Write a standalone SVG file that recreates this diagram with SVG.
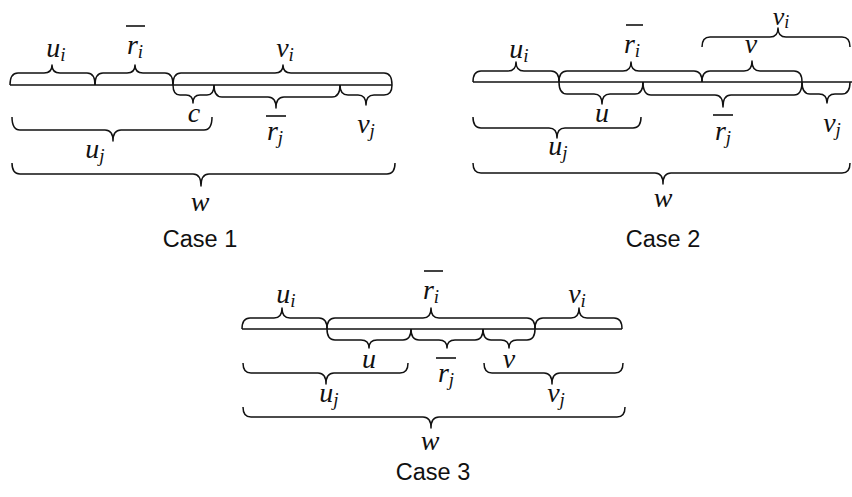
<svg xmlns="http://www.w3.org/2000/svg" width="852" height="497" viewBox="0 0 852 497">
<style>
.bar{stroke:#111;stroke-width:1.6;fill:none}
.br{stroke:#111;stroke-width:1.5;fill:none;stroke-linejoin:round}
.ob{stroke:#111;stroke-width:1.6}
.m{font-family:"Liberation Serif","DejaVu Serif",serif;font-style:italic;font-size:28px;fill:#111;text-anchor:middle}
.s{font-size:19px}
.cap{font-family:"Liberation Sans",Arial,sans-serif;font-size:23.5px;fill:#111;text-anchor:middle}
</style>
<rect width="852" height="497" fill="#fff"/>
<g id="connectors">
<line class="bar" x1="10" y1="85" x2="392" y2="85"/>
<line class="bar" x1="473" y1="82" x2="852" y2="82"/>
<line class="bar" x1="242" y1="329" x2="622" y2="329"/>
</g>
<!-- Case 1 -->
<g id="c1-ui"><path class="br" d="M10 85 Q10 73 18 73 L44 73 Q52 73 52 65 Q52 73 60 73 L87 73 Q95 73 95 85"/><text class="m" x="56" y="57">u<tspan class="s" dy="4">i</tspan></text></g>
<g id="c1-ri"><path class="br" d="M95 85 Q95 73 103 73 L127 73 Q135 73 135 65 Q135 73 143 73 L165 73 Q173 73 173 85"/><text class="m" x="135" y="54">r<tspan class="s" dy="4">i</tspan></text><line class="ob" x1="126" y1="26" x2="145" y2="26"/></g>
<g id="c1-vi"><path class="br" d="M173 85 Q173 73 181 73 L275 73 Q283 73 283 65 Q283 73 291 73 L384 73 Q392 73 392 85"/><text class="m" x="285" y="57">v<tspan class="s" dy="4">i</tspan></text></g>
<g id="c1-c"><path class="br" d="M173 85 Q173 95 180 95 L186 95 Q193 95 193 103 Q193 95 200 95 L207 95 Q214 95 214 85"/><text class="m" x="194" y="122">c</text></g>
<g id="c1-rj"><path class="br" d="M214 85 Q214 97 222 97 L268 97 Q276 97 276 108 Q276 97 284 97 L332 97 Q340 97 340 85"/><text class="m" x="275" y="140">r<tspan class="s" dy="4">j</tspan></text><line class="ob" x1="266" y1="116" x2="286" y2="116"/></g>
<g id="c1-vj"><path class="br" d="M340 85 Q340 95 348 95 L358 95 Q366 95 366 105 Q366 95 374 95 L384 95 Q392 95 392 85"/><text class="m" x="366" y="133">v<tspan class="s" dy="4">j</tspan></text></g>
<g id="c1-uj"><path class="br" d="M12 117 Q12 130 20 130 L105 130 Q113 130 113 141 Q113 130 121 130 L204 130 Q212 130 212 117"/><text class="m" x="95" y="158">u<tspan class="s" dy="4">j</tspan></text></g>
<g id="c1-w"><path class="br" d="M12 163 Q12 174 20 174 L193 174 Q201 174 201 186 Q201 174 209 174 L387 174 Q395 174 395 163"/><text class="m" x="200" y="211">w</text></g>
<g id="c1-label"><text class="cap" x="200" y="247">Case 1</text></g>
<!-- Case 2 -->
<g id="c2-ui"><path class="br" d="M473 82 Q473 71 481 71 L508 71 Q516 71 516 62 Q516 71 524 71 L551 71 Q559 71 559 82"/><text class="m" x="519" y="58">u<tspan class="s" dy="4">i</tspan></text></g>
<g id="c2-ri"><path class="br" d="M559 82 Q559 71 567 71 L623 71 Q631 71 631 62 Q631 71 639 71 L694 71 Q702 71 702 82"/><text class="m" x="632" y="53">r<tspan class="s" dy="4">i</tspan></text><line class="ob" x1="626" y1="25" x2="643" y2="25"/></g>
<g id="c2-v"><path class="br" d="M702 82 Q702 71 710 71 L744 71 Q752 71 752 61 Q752 71 760 71 L794 71 Q802 71 802 82"/><text class="m" x="751" y="53">v</text></g>
<g id="c2-vi"><path class="br" d="M702 47 Q702 37 710 37 L770 37 Q778 37 778 28 Q778 37 786 37 L842 37 Q850 37 850 47"/><text class="m" x="781" y="25" style="font-size:26px">v<tspan style="font-size:18px" dy="3">i</tspan></text></g>
<g id="c2-u"><path class="br" d="M559 82 Q559 94 567 94 L594 94 Q602 94 602 104 Q602 94 610 94 L635 94 Q643 94 643 82"/><text class="m" x="602" y="122">u</text></g>
<g id="c2-rj"><path class="br" d="M643 82 Q643 95 651 95 L715 95 Q723 95 723 107 Q723 95 731 95 L794 95 Q802 95 802 82"/><text class="m" x="723" y="140">r<tspan class="s" dy="4">j</tspan></text><line class="ob" x1="713" y1="115" x2="733" y2="115"/></g>
<g id="c2-vj"><path class="br" d="M802 82 Q802 94 810 94 L819 94 Q827 94 827 103 Q827 94 835 94 L842 94 Q850 94 850 82"/><text class="m" x="832" y="132">v<tspan class="s" dy="4">j</tspan></text></g>
<g id="c2-uj"><path class="br" d="M473 117 Q473 128 481 128 L549 128 Q557 128 557 138 Q557 128 565 128 L633 128 Q641 128 641 117"/><text class="m" x="558" y="155">u<tspan class="s" dy="4">j</tspan></text></g>
<g id="c2-w"><path class="br" d="M473 163 Q473 173 481 173 L655 173 Q663 173 663 184 Q663 173 671 173 L842 173 Q850 173 850 163"/><text class="m" x="663" y="207">w</text></g>
<g id="c2-label"><text class="cap" x="663" y="247">Case 2</text></g>
<!-- Case 3 -->
<g id="c3-ui"><path class="br" d="M242 329 Q242 318 250 318 L274 318 Q282 318 282 308 Q282 318 290 318 L319 318 Q327 318 327 329"/><text class="m" x="286" y="303">u<tspan class="s" dy="4">i</tspan></text></g>
<g id="c3-ri"><path class="br" d="M327 329 Q327 318 335 318 L423 318 Q431 318 431 308 Q431 318 439 318 L527 318 Q535 318 535 329"/><text class="m" x="431" y="299">r<tspan class="s" dy="4">i</tspan></text><line class="ob" x1="424" y1="271" x2="443" y2="271"/></g>
<g id="c3-vi"><path class="br" d="M535 329 Q535 318 543 318 L571 318 Q579 318 579 308 Q579 318 587 318 L614 318 Q622 318 622 329"/><text class="m" x="577" y="303">v<tspan class="s" dy="4">i</tspan></text></g>
<g id="c3-u"><path class="br" d="M327 329 Q327 340 335 340 L361 340 Q369 340 369 348 Q369 340 377 340 L403 340 Q411 340 411 329"/><text class="m" x="369" y="368">u</text></g>
<g id="c3-rj"><path class="br" d="M411 329 Q411 340 419 340 L439 340 Q447 340 447 348 Q447 340 455 340 L475 340 Q483 340 483 329"/><text class="m" x="446" y="382">r<tspan class="s" dy="4">j</tspan></text><line class="ob" x1="436" y1="358" x2="456" y2="358"/></g>
<g id="c3-v"><path class="br" d="M483 329 Q483 340 491 340 L501 340 Q509 340 509 348 Q509 340 517 340 L527 340 Q535 340 535 329"/><text class="m" x="509" y="368">v</text></g>
<g id="c3-uj"><path class="br" d="M243 363 Q243 373 251 373 L318 373 Q326 373 326 384 Q326 373 334 373 L400 373 Q408 373 408 363"/><text class="m" x="329" y="402">u<tspan class="s" dy="4">j</tspan></text></g>
<g id="c3-vj"><path class="br" d="M484 363 Q484 373 492 373 L544 373 Q552 373 552 384 Q552 373 560 373 L615 373 Q623 373 623 363"/><text class="m" x="556" y="402">v<tspan class="s" dy="4">j</tspan></text></g>
<g id="c3-w"><path class="br" d="M243 407 Q243 417 251 417 L423 417 Q431 417 431 428 Q431 417 439 417 L617 417 Q625 417 625 407"/><text class="m" x="430" y="450">w</text></g>
<g id="c3-label"><text class="cap" x="433" y="480">Case 3</text></g>
</svg>
